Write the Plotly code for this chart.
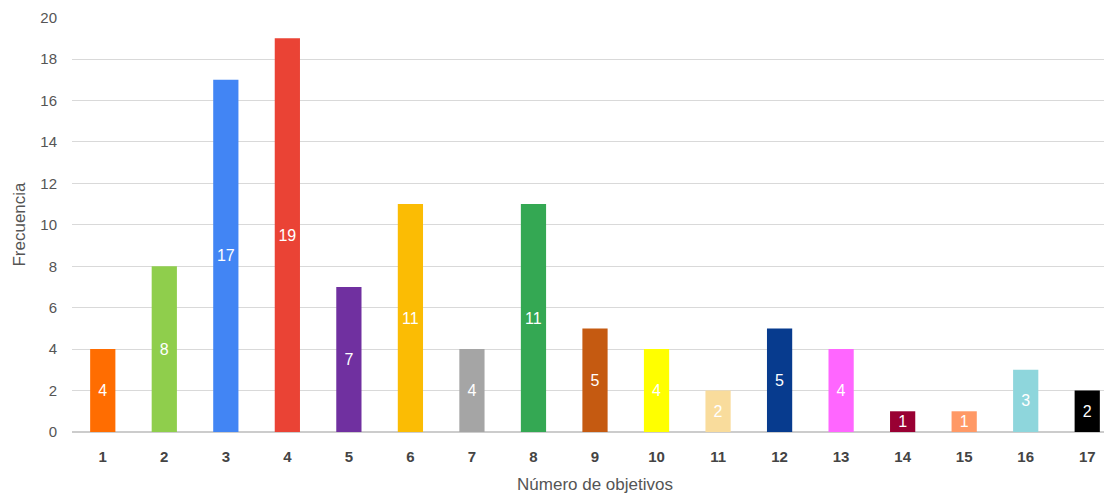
import plotly.graph_objects as go

categories = [str(i) for i in range(1, 18)]
values = [4, 8, 17, 19, 7, 11, 4, 11, 5, 4, 2, 5, 4, 1, 1, 3, 2]
colors = ["#FF6D01", "#8FCE4C", "#4285F4", "#EA4335", "#7030A0", "#FBBC04",
          "#A5A5A5", "#34A853", "#C55A11", "#FFFF00", "#F9DC9C", "#073B8E",
          "#FF66FF", "#990033", "#FF9966", "#8ED6DC", "#000000"]
y_ticks = list(range(0, 21, 2))

FONT = "Liberation Sans, Arial, sans-serif"

fig = go.Figure(go.Bar(
    x=categories, y=values, marker=dict(color=colors, line=dict(width=0)),
    text=[str(v) for v in values], textposition="inside", insidetextanchor="middle",
    textangle=0, constraintext="none",
    textfont=dict(color="white", size=16, family=FONT),
    hoverinfo="x+y",
))

fig.update_layout(
    width=1112, height=494,
    margin=dict(l=64, r=2, t=9, b=70),
    plot_bgcolor="white", paper_bgcolor="white",
    bargap=0.59,
    showlegend=False,
    uniformtext=dict(minsize=16, mode="show"),
    font=dict(family=FONT, color="#555555"),
)
fig.update_xaxes(
    type="category", tickfont=dict(size=15, color="#444444", family=FONT, weight="bold"),
    ticklabelstandoff=14,
    title=dict(text="Número de objetivos", font=dict(size=17, color="#555555"), standoff=14),
    showgrid=False, ticks="", showline=False,
)
fig.update_yaxes(
    range=[0, 20.03], tickmode="array", tickvals=y_ticks, ticktext=[str(t) for t in y_ticks],
    tickfont=dict(size=15, color="#555555"), ticklabeloverflow="allow", automargin=False,
    title=dict(text="Frecuencia", font=dict(size=17, color="#555555"), standoff=10),
    gridcolor="#D9D9D9", gridwidth=1, zeroline=True, zerolinecolor="#CCCCCC", zerolinewidth=2,
    ticks="", ticklabelstandoff=14,
)

fig.write_html("out.html")
